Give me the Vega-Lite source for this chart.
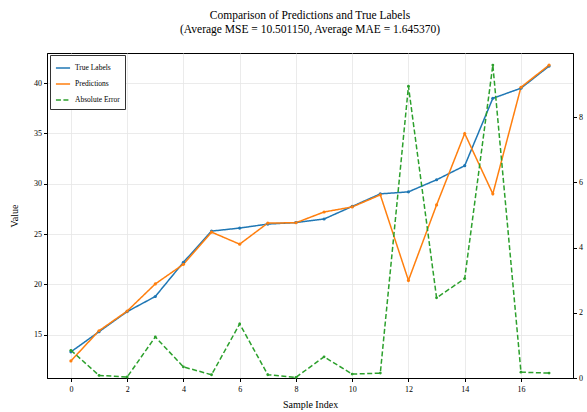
{
  "$schema": "https://vega.github.io/schema/vega-lite/v6.json",
  "width": 526,
  "height": 325,
  "autosize": "none",
  "padding": {"left": 47, "top": 53, "right": 14, "bottom": 34},
  "background": "white",
  "config": {
    "font": "Liberation Serif",
    "view": {"stroke": "black", "strokeWidth": 1},
    "axis": {
      "labelFont": "Liberation Serif", "titleFont": "Liberation Serif",
      "labelFontSize": 8, "titleFontSize": 10, "titleFontWeight": "normal",
      "labelColor": "black", "titleColor": "black",
      "tickColor": "black", "tickSize": 3.5, "domainColor": "black",
      "gridColor": "#e6e6e6", "gridWidth": 0.8
    }
  },
  "title": {
    "text": ["Comparison of Predictions and True Labels", "(Average MSE = 10.501150, Average MAE = 1.645370)"],
    "font": "Liberation Serif", "fontSize": 11.5, "fontWeight": "normal", "color": "black",
    "anchor": "middle", "offset": 18, "lineHeight": 14
  },
  "datasets": {
    "preds": [
      {"i": 0, "series": "True Labels", "v": 13.3},
      {"i": 1, "series": "True Labels", "v": 15.3},
      {"i": 2, "series": "True Labels", "v": 17.3},
      {"i": 3, "series": "True Labels", "v": 18.8},
      {"i": 4, "series": "True Labels", "v": 22.2},
      {"i": 5, "series": "True Labels", "v": 25.3},
      {"i": 6, "series": "True Labels", "v": 25.6},
      {"i": 7, "series": "True Labels", "v": 26.0},
      {"i": 8, "series": "True Labels", "v": 26.15},
      {"i": 9, "series": "True Labels", "v": 26.5},
      {"i": 10, "series": "True Labels", "v": 27.75},
      {"i": 11, "series": "True Labels", "v": 29.0},
      {"i": 12, "series": "True Labels", "v": 29.2},
      {"i": 13, "series": "True Labels", "v": 30.4},
      {"i": 14, "series": "True Labels", "v": 31.8},
      {"i": 15, "series": "True Labels", "v": 38.5},
      {"i": 16, "series": "True Labels", "v": 39.5},
      {"i": 17, "series": "True Labels", "v": 41.7},
      {"i": 0, "series": "Predictions", "v": 12.4},
      {"i": 1, "series": "Predictions", "v": 15.4},
      {"i": 2, "series": "Predictions", "v": 17.35},
      {"i": 3, "series": "Predictions", "v": 20.05},
      {"i": 4, "series": "Predictions", "v": 22.0},
      {"i": 5, "series": "Predictions", "v": 25.2},
      {"i": 6, "series": "Predictions", "v": 24.0},
      {"i": 7, "series": "Predictions", "v": 26.1},
      {"i": 8, "series": "Predictions", "v": 26.13},
      {"i": 9, "series": "Predictions", "v": 27.2},
      {"i": 10, "series": "Predictions", "v": 27.7},
      {"i": 11, "series": "Predictions", "v": 28.9},
      {"i": 12, "series": "Predictions", "v": 20.4},
      {"i": 13, "series": "Predictions", "v": 27.9},
      {"i": 14, "series": "Predictions", "v": 35.0},
      {"i": 15, "series": "Predictions", "v": 29.0},
      {"i": 16, "series": "Predictions", "v": 39.6},
      {"i": 17, "series": "Predictions", "v": 41.8}
    ],
    "errors": [
      {"i": 0, "series": "Absolute Error", "e": 0.85},
      {"i": 1, "series": "Absolute Error", "e": 0.08},
      {"i": 2, "series": "Absolute Error", "e": 0.03},
      {"i": 3, "series": "Absolute Error", "e": 1.26},
      {"i": 4, "series": "Absolute Error", "e": 0.34},
      {"i": 5, "series": "Absolute Error", "e": 0.1},
      {"i": 6, "series": "Absolute Error", "e": 1.66},
      {"i": 7, "series": "Absolute Error", "e": 0.1},
      {"i": 8, "series": "Absolute Error", "e": 0.02},
      {"i": 9, "series": "Absolute Error", "e": 0.65},
      {"i": 10, "series": "Absolute Error", "e": 0.12},
      {"i": 11, "series": "Absolute Error", "e": 0.15},
      {"i": 12, "series": "Absolute Error", "e": 8.95},
      {"i": 13, "series": "Absolute Error", "e": 2.46},
      {"i": 14, "series": "Absolute Error", "e": 3.05},
      {"i": 15, "series": "Absolute Error", "e": 9.6},
      {"i": 16, "series": "Absolute Error", "e": 0.18},
      {"i": 17, "series": "Absolute Error", "e": 0.15}
    ]
  },
  "encoding": {
    "x": {
      "field": "i", "type": "quantitative",
      "scale": {"domain": [-0.85, 17.85], "nice": false, "zero": false},
      "axis": {"title": "Sample Index", "values": [0, 2, 4, 6, 8, 10, 12, 14, 16], "grid": true, "labelPadding": 4, "titlePadding": 6}
    },
    "color": {
      "field": "series", "type": "nominal",
      "scale": {"domain": ["True Labels", "Predictions", "Absolute Error"], "range": ["#1f77b4", "#ff7f0e", "#2ca02c"]},
      "legend": {
        "title": null, "orient": "none", "legendX": 3, "legendY": 2,
        "labelFont": "Liberation Serif", "labelFontSize": 7.5, "labelColor": "black",
        "symbolType": "stroke", "symbolSize": 200, "symbolStrokeWidth": 1.5,
        "strokeColor": "#333333", "fillColor": "white", "padding": 5, "rowPadding": 4,
        "cornerRadius": 0
      }
    },
    "strokeDash": {
      "field": "series", "type": "nominal",
      "scale": {"domain": ["True Labels", "Predictions", "Absolute Error"], "range": [[1, 0], [1, 0], [5, 2.5]]},
      "legend": null
    }
  },
  "layer": [
    {
      "data": {"name": "preds"},
      "mark": {"type": "line", "strokeWidth": 1.5, "point": {"filled": true, "size": 10}},
      "encoding": {
        "y": {
          "field": "v", "type": "quantitative",
          "scale": {"domain": [10.7, 43.0], "nice": false, "zero": false},
          "axis": {"title": "Value", "values": [15, 20, 25, 30, 35, 40], "grid": true, "titlePadding": 14}
        }
      }
    },
    {
      "data": {"name": "errors"},
      "mark": {"type": "line", "strokeWidth": 1.5, "point": {"filled": true, "size": 8}},
      "encoding": {
        "y": {
          "field": "e", "type": "quantitative",
          "scale": {"domain": [0, 9.97], "nice": false, "zero": true},
          "axis": {"title": null, "orient": "right", "values": [0, 2, 4, 6, 8], "grid": false}
        }
      }
    }
  ],
  "resolve": {"scale": {"y": "independent"}}
}
